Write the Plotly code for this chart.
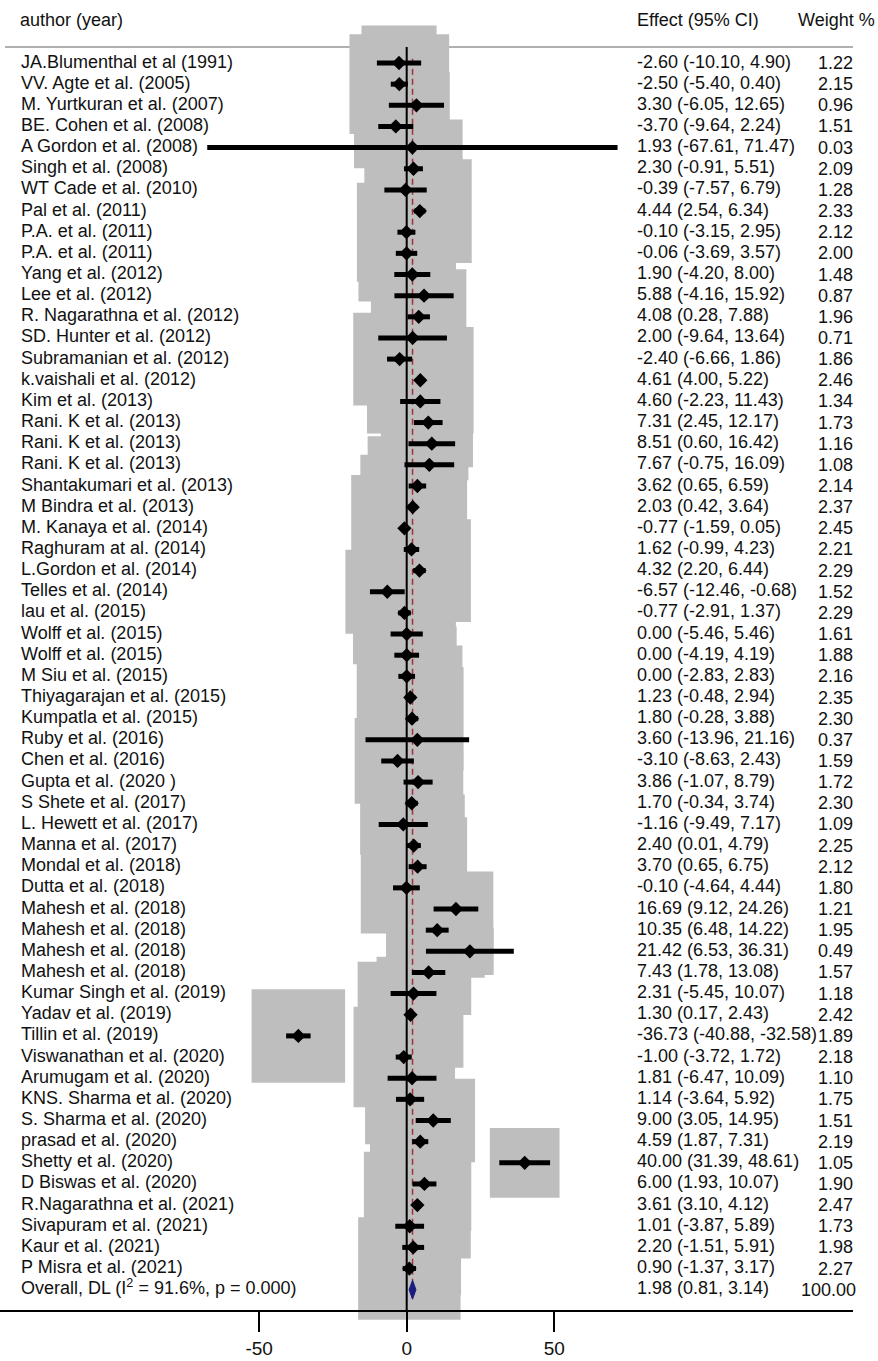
import plotly.graph_objects as go
import numpy as np

authors = [
    "JA.Blumenthal et al (1991)", "VV. Agte et al. (2005)", "M. Yurtkuran et al. (2007)",
    "BE. Cohen et al. (2008)", "A Gordon et al. (2008)", "Singh et al. (2008)",
    "WT Cade et al. (2010)", "Pal et al. (2011)", "P.A. et al. (2011)", "P.A. et al. (2011)",
    "Yang et al. (2012)", "Lee et al. (2012)", "R. Nagarathna et al. (2012)",
    "SD. Hunter et al. (2012)", "Subramanian et al. (2012)", "k.vaishali et al. (2012)",
    "Kim et al. (2013)", "Rani. K et al. (2013)", "Rani. K et al. (2013)", "Rani. K et al. (2013)",
    "Shantakumari et al. (2013)", "M Bindra et al. (2013)", "M. Kanaya et al. (2014)",
    "Raghuram at al. (2014)", "L.Gordon et al. (2014)", "Telles et al. (2014)",
    "lau et al. (2015)", "Wolff et al. (2015)", "Wolff et al. (2015)", "M Siu et al. (2015)",
    "Thiyagarajan et al. (2015)", "Kumpatla et al. (2015)", "Ruby et al. (2016)",
    "Chen et al. (2016)", "Gupta et al. (2020 )", "S Shete et al. (2017)",
    "L. Hewett et al. (2017)", "Manna et al. (2017)", "Mondal et al. (2018)",
    "Dutta et al. (2018)", "Mahesh et al. (2018)", "Mahesh et al. (2018)",
    "Mahesh et al. (2018)", "Mahesh et al. (2018)", "Kumar Singh et al. (2019)",
    "Yadav et al. (2019)", "Tillin et al. (2019)", "Viswanathan et al. (2020)",
    "Arumugam et al. (2020)", "KNS. Sharma et al. (2020)", "S. Sharma et al. (2020)",
    "prasad et al. (2020)", "Shetty et al. (2020)", "D Biswas et al. (2020)",
    "R.Nagarathna et al. (2021)", "Sivapuram et al. (2021)", "Kaur et al. (2021)",
    "P Misra et al. (2021)",
]
effects = [-2.60, -2.50, 3.30, -3.70, 1.93, 2.30, -0.39, 4.44, -0.10, -0.06,
           1.90, 5.88, 4.08, 2.00, -2.40, 4.61, 4.60, 7.31, 8.51, 7.67,
           3.62, 2.03, -0.77, 1.62, 4.32, -6.57, -0.77, 0.00, 0.00, 0.00,
           1.23, 1.80, 3.60, -3.10, 3.86, 1.70, -1.16, 2.40, 3.70, -0.10,
           16.69, 10.35, 21.42, 7.43, 2.31, 1.30, -36.73, -1.00, 1.81, 1.14,
           9.00, 4.59, 40.00, 6.00, 3.61, 1.01, 2.20, 0.90]
lower = [-10.10, -5.40, -6.05, -9.64, -67.61, -0.91, -7.57, 2.54, -3.15, -3.69,
         -4.20, -4.16, 0.28, -9.64, -6.66, 4.00, -2.23, 2.45, 0.60, -0.75,
         0.65, 0.42, -1.59, -0.99, 2.20, -12.46, -2.91, -5.46, -4.19, -2.83,
         -0.48, -0.28, -13.96, -8.63, -1.07, -0.34, -9.49, 0.01, 0.65, -4.64,
         9.12, 6.48, 6.53, 1.78, -5.45, 0.17, -40.88, -3.72, -6.47, -3.64,
         3.05, 1.87, 31.39, 1.93, 3.10, -3.87, -1.51, -1.37]
upper = [4.90, 0.40, 12.65, 2.24, 71.47, 5.51, 6.79, 6.34, 2.95, 3.57,
         8.00, 15.92, 7.88, 13.64, 1.86, 5.22, 11.43, 12.17, 16.42, 16.09,
         6.59, 3.64, 0.05, 4.23, 6.44, -0.68, 1.37, 5.46, 4.19, 2.83,
         2.94, 3.88, 21.16, 2.43, 8.79, 3.74, 7.17, 4.79, 6.75, 4.44,
         24.26, 14.22, 36.31, 13.08, 10.07, 2.43, -32.58, 1.72, 10.09, 5.92,
         14.95, 7.31, 48.61, 10.07, 4.12, 5.89, 5.91, 3.17]
weights = [1.22, 2.15, 0.96, 1.51, 0.03, 2.09, 1.28, 2.33, 2.12, 2.00,
           1.48, 0.87, 1.96, 0.71, 1.86, 2.46, 1.34, 1.73, 1.16, 1.08,
           2.14, 2.37, 2.45, 2.21, 2.29, 1.52, 2.29, 1.61, 1.88, 2.16,
           2.35, 2.30, 0.37, 1.59, 1.72, 2.30, 1.09, 2.25, 2.12, 1.80,
           1.21, 1.95, 0.49, 1.57, 1.18, 2.42, 1.89, 2.18, 1.10, 1.75,
           1.51, 2.19, 1.05, 1.90, 2.47, 1.73, 1.98, 2.27]

overall_label = "Overall, DL (I<sup>2</sup> = 91.6%, p = 0.000)"
overall_est, overall_lo, overall_hi, overall_w = 1.98, 0.81, 3.14, 100.00

tick_vals = [-50, 0, 50]
tick_text = ["-50", "0", "50"]

# ---- layout geometry (pixels) ----
W, H = 878, 1361
ZERO_PX = 406.7
PX_PER_UNIT = 2.95
ROW0_PX = 63.0
ROW_PX = 21.15
AXIS_RIGHT_PX = 853
AXIS_Y_PX = 1311

def px2x(px):
    return (px - ZERO_PX) / PX_PER_UNIT

def px2row(py):
    return (py - ROW0_PX) / ROW_PX

n = len(authors)
rows = list(range(n))
overall_row = n

FONT = "Liberation Sans, Arial, sans-serif"
FS = 18
TXT = "#111111"

fig = go.Figure()

# gray weight boxes
fig.add_trace(go.Scatter(
    x=effects, y=rows, mode="markers",
    marker=dict(symbol="square", size=[68 * np.sqrt(w) for w in weights],
                color="#bebebe", opacity=1, line=dict(width=0)),
    hoverinfo="skip", cliponaxis=False))

# null line
fig.add_trace(go.Scatter(x=[0, 0], y=[px2row(47), px2row(AXIS_Y_PX)], mode="lines",
                         line=dict(color="black", width=2), hoverinfo="skip"))
# overall dashed line
fig.add_trace(go.Scatter(x=[overall_est, overall_est], y=[-0.2, overall_row - 0.45],
                         mode="lines", line=dict(color="#a0303a", width=1.5, dash="6px,4px"),
                         hoverinfo="skip"))

# CIs
cx, cy = [], []
for i in range(n):
    cx += [lower[i], upper[i], None]
    cy += [i, i, None]
fig.add_trace(go.Scatter(x=cx, y=cy, mode="lines", line=dict(color="black", width=5),
                         hoverinfo="skip"))

# point estimates
fig.add_trace(go.Scatter(x=effects, y=rows, mode="markers",
                         marker=dict(symbol="diamond", size=11, color="black", opacity=1),
                         hoverinfo="skip"))

# overall diamond
fig.add_trace(go.Scatter(
    x=[overall_lo, overall_est, overall_hi, overall_est, overall_lo],
    y=[overall_row, overall_row - 0.45, overall_row, overall_row + 0.45, overall_row],
    mode="lines", fill="toself", fillcolor="#1c1c80", line=dict(color="#1c1c80", width=1),
    hoverinfo="skip"))

# text columns
all_labels = authors + [overall_label]
all_rows = rows + [overall_row]
eff_text = [f"{e:.2f} ({l:.2f}, {u:.2f})" for e, l, u in zip(effects, lower, upper)]
eff_text.append(f"{overall_est:.2f} ({overall_lo:.2f}, {overall_hi:.2f})")
w_text = [f"{w:.2f}" for w in weights] + [f"{overall_w:.2f}"]

fig.add_trace(go.Scatter(x=[px2x(21)] * len(all_rows), y=all_rows, mode="text",
                         text=all_labels, textposition="middle right",
                         textfont=dict(family=FONT, size=FS, color=TXT),
                         cliponaxis=False, hoverinfo="skip"))
fig.add_trace(go.Scatter(x=[px2x(637)] * len(all_rows), y=all_rows, mode="text",
                         text=eff_text, textposition="middle right",
                         textfont=dict(family=FONT, size=FS, color=TXT),
                         cliponaxis=False, hoverinfo="skip"))
for r, t in zip(all_rows, w_text):
    fig.add_annotation(x=(858 if r == overall_row else 855) / W, y=r, xref="paper", yref="y",
                       text=t, showarrow=False, xanchor="right", yanchor="middle",
                       font=dict(family=FONT, size=FS, color=TXT))

# headers
fig.add_annotation(x=18 / W, y=1 - 20 / H, xref="paper", yref="paper", text="author (year)",
                   showarrow=False, xanchor="left", yanchor="middle",
                   font=dict(family=FONT, size=FS, color=TXT))
fig.add_annotation(x=635 / W, y=1 - 20 / H, xref="paper", yref="paper", text="Effect (95% CI)",
                   showarrow=False, xanchor="left", yanchor="middle",
                   font=dict(family=FONT, size=FS, color=TXT))
fig.add_annotation(x=877 / W, y=1 - 20 / H, xref="paper", yref="paper", text="Weight %",
                   showarrow=False, xanchor="right", yanchor="middle",
                   font=dict(family=FONT, size=FS, color=TXT))
fig.add_shape(type="line", xref="paper", yref="paper", x0=5 / W, x1=AXIS_RIGHT_PX / W,
              y0=1 - 47 / H, y1=1 - 47 / H, line=dict(color="#b0b0b0", width=2), layer="below")

x_lo = px2x(0)
x_hi = px2x(AXIS_RIGHT_PX)
fig.update_layout(
    width=W, height=H, margin=dict(l=0, r=0, t=0, b=0),
    paper_bgcolor="white", plot_bgcolor="rgba(0,0,0,0)", showlegend=False,
    xaxis=dict(domain=[0, AXIS_RIGHT_PX / W], range=[x_lo, x_hi], anchor="free",
               position=1 - AXIS_Y_PX / H, showgrid=False, zeroline=False,
               showline=True, linecolor="black", linewidth=2,
               ticks="outside", ticklen=20, tickwidth=2, tickcolor="black",
               tickvals=tick_vals, ticktext=tick_text,
               tickfont=dict(family=FONT, size=19, color=TXT)),
    yaxis=dict(domain=[0, 1], range=[px2row(H), px2row(0)], visible=False),
)

fig.write_html("out.html", config={"displayModeBar": False},
               post_script="document.body.style.margin='0px';document.body.style.overflow='hidden';")
